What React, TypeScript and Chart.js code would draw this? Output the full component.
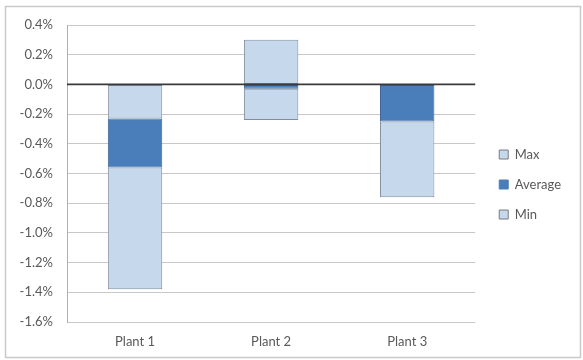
import React, { useEffect, useRef } from "react";
import { Chart, registerables } from "chart.js";

Chart.register(...registerables);

const categories = ["Plant 1", "Plant 2", "Plant 3"];
// floating bar ranges in percent: [from, to]
const maxRanges: [number, number][] = [[0, -0.23], [0.30, 0], [0, 0]];
const avgRanges: [number, number][] = [[-0.23, -0.56], [0, -0.03], [0, -0.25]];
const minRanges: [number, number][] = [[-0.56, -1.38], [-0.03, -0.24], [-0.25, -0.76]];
const seriesNames = ["Max", "Average", "Min"];
const yMin = -1.6;
const yMax = 0.4;
const yStep = 0.2;

const LIGHT = "#c6d9ec";
const LIGHT_BORDER = "#7f8d9c";
const DARK = "#4a7ebb";
const DARK_BORDER = "#3a6296";
const FONT = "Lato";

export default function App() {
  const ref = useRef<HTMLCanvasElement>(null);
  useEffect(() => {
    document.body.style.margin = "0";
    const canvas = ref.current!;
    const zeroLine = {
      id: "zeroLine",
      afterDatasetsDraw(chart: any) {
        const { ctx, chartArea, scales } = chart;
        const y = scales.y.getPixelForValue(0);
        ctx.save();
        ctx.strokeStyle = "#3a3a3a";
        ctx.lineWidth = 1.6;
        ctx.beginPath();
        ctx.moveTo(chartArea.left, y);
        ctx.lineTo(chartArea.right, y);
        ctx.stroke();
        ctx.restore();
      },
    };
    const frame = {
      id: "frame",
      beforeDraw(chart: any) {
        const { ctx, width, height } = chart;
        ctx.save();
        ctx.fillStyle = "#ffffff";
        ctx.fillRect(0, 0, width, height);
        ctx.strokeStyle = "#c9c9c9";
        ctx.lineWidth = 1.5;
        ctx.strokeRect(5.5, 6.5, width - 8, height - 9);
        ctx.restore();
      },
    };
    const legendShift = {
      id: "legendShift",
      afterLayout(chart: any) {
        const lg = chart.legend;
        if (!lg) return;
        lg.left += 7;
        lg.right += 7;
        lg.top -= 8;
        lg.bottom -= 8;
      },
    };
    const chart = new Chart(canvas, {
      type: "bar",
      data: {
        labels: categories,
        datasets: [
          {
            label: seriesNames[0],
            data: maxRanges as any,
            backgroundColor: LIGHT,
            borderColor: LIGHT_BORDER,
            borderWidth: 1,
            borderSkipped: false,
          },
          {
            label: seriesNames[1],
            data: avgRanges as any,
            backgroundColor: DARK,
            borderColor: DARK_BORDER,
            borderWidth: 1,
            borderSkipped: false,
          },
          {
            label: seriesNames[2],
            data: minRanges as any,
            backgroundColor: LIGHT,
            borderColor: LIGHT_BORDER,
            borderWidth: 1,
            borderSkipped: false,
          },
        ],
      },
      options: {
        animation: false,
        responsive: false,
        maintainAspectRatio: false,
        layout: { padding: { left: 12, top: 25, right: 19, bottom: 0 } },
        datasets: { bar: { categoryPercentage: 0.4, barPercentage: 1 } },
        scales: {
          x: {
            stacked: true,
            grid: { display: false, drawTicks: false },
            border: { display: false },
            ticks: { color: "#595959", font: { family: FONT, size: 13 }, padding: 12 },
            afterFit(scale: any) {
              scale.height = 38;
            },
          },
          y: {
            stacked: false,
            min: yMin,
            max: yMax,
            grid: { color: "#c8c8c8", lineWidth: 1, drawTicks: false },
            border: { display: true, color: "#b0b0b0", width: 1 },
            ticks: {
              stepSize: yStep,
              color: "#595959",
              padding: 14,
              font: { family: FONT, size: 13 },
              callback: (v: any) => Number(v).toFixed(1) + "%",
            },
            afterFit(scale: any) {
              scale.width = 55;
            },
          },
        },
        plugins: {
          tooltip: { enabled: false },
          legend: {
            position: "right",
            labels: {
              boxWidth: 9,
              boxHeight: 9,
              padding: 17,
              color: "#595959",
              font: { family: FONT, size: 13 },
              generateLabels: (ch: any) =>
                ch.data.datasets.map((ds: any, i: number) => ({
                  text: ds.label,
                  fillStyle: ds.backgroundColor,
                  strokeStyle: i === 1 ? ds.backgroundColor : "#7a7a7a",
                  lineWidth: 1,
                  hidden: false,
                  datasetIndex: i,
                  fontColor: "#595959",
                })),
            },
          },
        },
      },
      plugins: [frame, zeroLine, legendShift],
    });
    return () => chart.destroy();
  }, []);
  return (
    <div style={{ width: 583, height: 360 }}>
      <canvas ref={ref} width={583} height={360} />
    </div>
  );
}
